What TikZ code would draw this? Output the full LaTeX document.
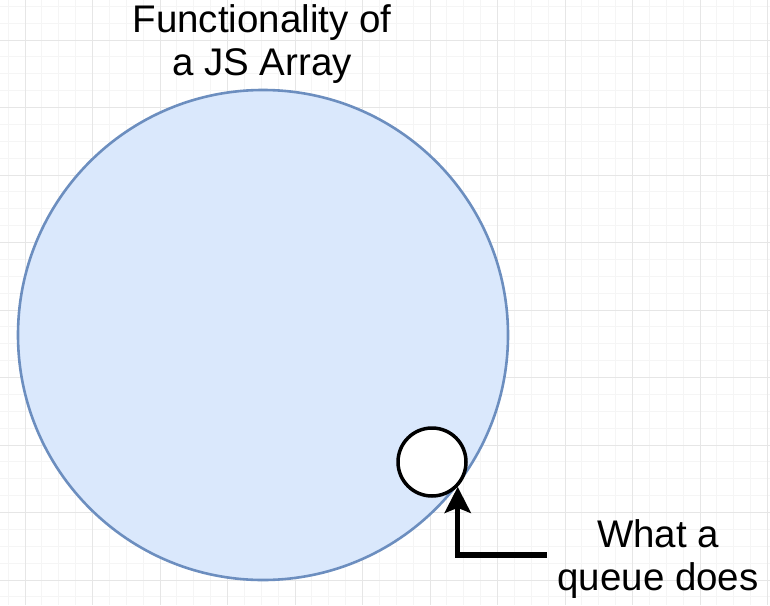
\documentclass[tikz,border=0pt]{standalone}
\usepackage{fontspec}
\setmainfont{Liberation Sans}
\usetikzlibrary{arrows.meta}
\definecolor{arrfill}{HTML}{DAE8FC}
\definecolor{arrdraw}{HTML}{6C8EBF}
\definecolor{gridmajor}{HTML}{E6E6E6}
\definecolor{gridminor}{HTML}{F5F5F5}
\tikzset{
  minorgrid/.style={draw=gridminor, line width=1pt},
  majorgrid/.style={draw=gridmajor, line width=1pt},
  bigset/.style={circle, draw=arrdraw, fill=arrfill, line width=2.6pt, minimum size=490pt, inner sep=0pt},
  smallset/.style={circle, draw=black, fill=white, line width=3.5pt, minimum size=68pt, inner sep=0pt},
  caption/.style={align=center, font=\fontsize{38.5}{43}\selectfont, inner xsep=10pt, inner ysep=0pt},
  pointer/.style={line width=5.5pt, -{Stealth[length=26pt, width=26pt, inset=5pt]}}
}
\begin{document}
\begin{tikzpicture}[x=1pt, y=-1pt]
\useasboundingbox (0,0) rectangle (770,605);
\fill[white] (0,0) rectangle (770,605);
% minor grid
\foreach \k in {0,...,45} \draw[minorgrid] ({8.125+16.875*\k},0) -- ({8.125+16.875*\k},605);
\foreach \k in {0,...,35} \draw[minorgrid] (0,{6.25+16.875*\k}) -- (770,{6.25+16.875*\k});
% major grid
\foreach \k in {0,...,11} \draw[majorgrid] ({25+67.5*\k},0) -- ({25+67.5*\k},605);
\foreach \k in {0,...,8} \draw[majorgrid] (0,{40+67.5*\k}) -- (770,{40+67.5*\k});
% shapes
\node[bigset] (array) at (263,335) {};
\node[smallset] (queue) at (432,462) {};
\node[caption] (title) at (262,44) {Functionality of\\a JS Array};
\node[caption] (label) at (658,559) {What a\\queue does};
\draw[pointer] ([yshift=4pt]label.west) -| (queue.-44.4);
\end{tikzpicture}
\end{document}
